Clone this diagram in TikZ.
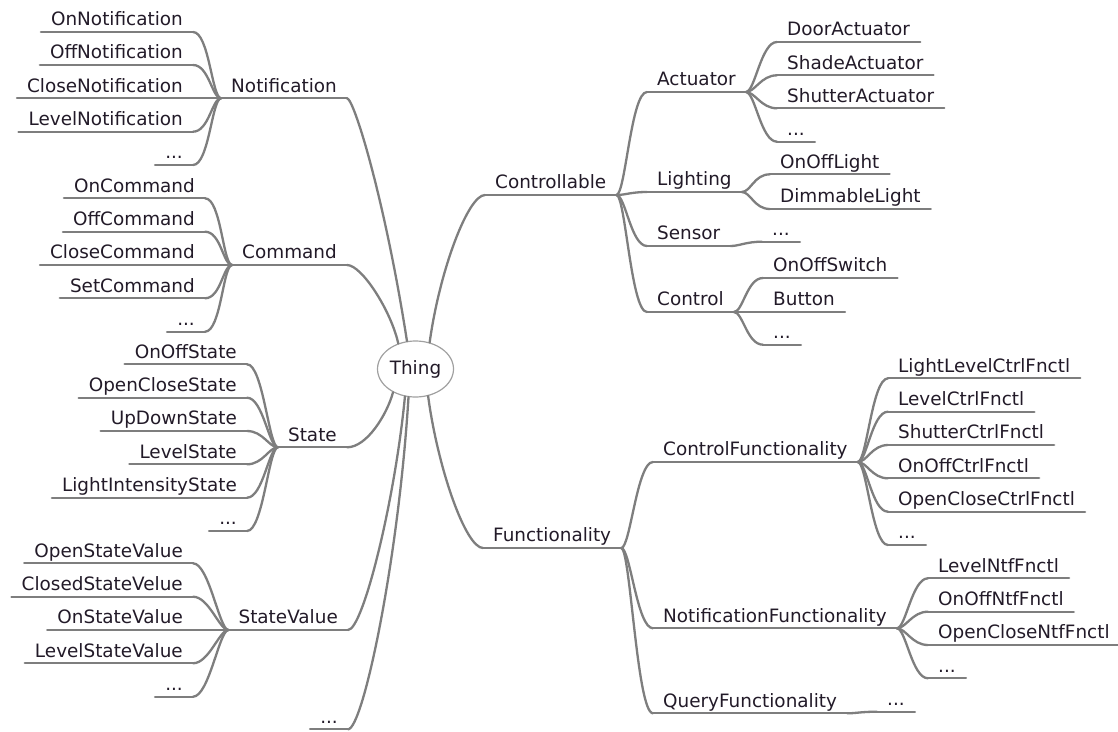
\documentclass[tikz,border=0pt]{standalone}
\usepackage{fontspec}
\setmainfont{DejaVu Sans}
\usetikzlibrary{shapes.geometric}
\definecolor{edgegray}{HTML}{7E7E7E}
\definecolor{rootgray}{HTML}{A0A0A0}
\definecolor{txt}{HTML}{221A28}
\newcommand\rlink[2]{\draw[ln] (#1.south east) .. controls +(9,0) and +(-16,0) .. (#2.south west);}
\newcommand\llink[2]{\draw[ln] (#1.south west) .. controls +(-9,0) and +(16,0) .. (#2.south east);}
\begin{document}
\begin{tikzpicture}[x=1pt,y=-1pt,
  lbl/.style={inner xsep=10pt, inner ysep=0pt, text height=13pt, text depth=6pt,
    font=\fontsize{18.4}{22}\selectfont, text=txt},
  L/.style={lbl, anchor=south east},
  R/.style={lbl, anchor=south west},
  ln/.style={draw=edgegray, line width=2.3pt, line cap=round},
  root/.style={ellipse, draw=rootgray, line width=1.2pt, fill=white, minimum width=76pt,
    minimum height=56pt, inner sep=0pt, font=\fontsize{18.4}{22}\selectfont, text=txt}]
\useasboundingbox (0,0) rectangle (1118,731);

\node[root] (thing) at (415.5,369) {Thing};

% ---------- left side ----------
\node[L] (notif) at (347,98.3) {Notification};
\node[L] (n1) at (193,32) {OnNotification};
\node[L] (n2) at (193,65) {OffNotification};
\node[L] (n3) at (193,98.3) {CloseNotification};
\node[L] (n4) at (193,131.7) {LevelNotification};
\node[L] (n5) at (193,165) {...};

\node[L] (cmd) at (347,265) {Command};
\node[L] (c1) at (205,198.3) {OnCommand};
\node[L] (c2) at (205,231.7) {OffCommand};
\node[L] (c3) at (205,265) {CloseCommand};
\node[L] (c4) at (205,298.3) {SetCommand};
\node[L] (c5) at (205,331.7) {...};

\node[L] (state) at (347,447.3) {State};
\node[L] (s1) at (247,364.3) {OnOffState};
\node[L] (s2) at (247,397.7) {OpenCloseState};
\node[L] (s3) at (247,431) {UpDownState};
\node[L] (s4) at (247,464.3) {LevelState};
\node[L] (s5) at (247,497.7) {LightIntensityState};
\node[L] (s6) at (247,531) {...};

\node[L] (stval) at (348,630) {StateValue};
\node[L] (v1) at (193,563.3) {OpenStateValue};
\node[L] (v2) at (193,596.7) {ClosedStateVelue};
\node[L] (v3) at (193,630) {OnStateValue};
\node[L] (v4) at (193,663.3) {LevelStateValue};
\node[L] (v5) at (193,696.7) {...};

\node[L] (more) at (348,729.3) {...};

% ---------- right side ----------
\node[R] (ctrl) at (485,195) {Controllable};
\node[R] (act) at (647,92) {Actuator};
\node[R] (a1) at (777,42) {DoorActuator};
\node[R] (a2) at (777,75.3) {ShadeActuator};
\node[R] (a3) at (777,108.3) {ShutterActuator};
\node[R] (a4) at (777,141.7) {...};
\node[R] (light) at (647,192) {Lighting};
\node[R] (l1) at (770,174.3) {OnOffLight};
\node[R] (l2) at (770,209) {DimmableLight};
\node[R] (sens) at (647,246) {Sensor};
\node[R] (se1) at (762,241.7) {...};
\node[R] (cont) at (647,312) {Control};
\node[R] (k1) at (763,278) {OnOffSwitch};
\node[R] (k2) at (763,312) {Button};
\node[R] (k3) at (763,344.7) {...};

\node[R] (func) at (483,548) {Functionality};
\node[R] (cf) at (653,462) {ControlFunctionality};
\node[R] (f1) at (888,378.3) {LightLevelCtrlFnctl};
\node[R] (f2) at (888,411.7) {LevelCtrlFnctl};
\node[R] (f3) at (888,445) {ShutterCtrlFnctl};
\node[R] (f4) at (888,478.3) {OnOffCtrlFnctl};
\node[R] (f5) at (888,511.7) {OpenCloseCtrlFnctl};
\node[R] (f6) at (888,545) {...};
\node[R] (nf) at (653,628.3) {NotificationFunctionality};
\node[R] (g1) at (928,578.3) {LevelNtfFnctl};
\node[R] (g2) at (928,611.7) {OnOffNtfFnctl};
\node[R] (g3) at (928,645) {OpenCloseNtfFnctl};
\node[R] (g4) at (928,678.3) {...};
\node[R] (qf) at (653,713.3) {QueryFunctionality};
\node[R] (q1) at (877,711.7) {...};

% underlines
\foreach \n in {notif,n1,n2,n3,n4,n5,cmd,c1,c2,c3,c4,c5,state,s1,s2,s3,s4,s5,s6,
  stval,v1,v2,v3,v4,v5,more,ctrl,act,a1,a2,a3,a4,light,l1,l2,sens,se1,cont,k1,k2,k3,
  func,cf,f1,f2,f3,f4,f5,f6,nf,g1,g2,g3,g4,qf,q1}
  \draw[ln] (\n.south west) -- (\n.south east);

% root connectors
\draw[ln] (notif.south east) .. controls +(7,0) and +(-22,-141) .. (thing.107);
\draw[ln] (cmd.south east) .. controls +(15,0) and +(-7,-32) .. (thing.124);
\draw[ln] (state.south east) .. controls +(20,0) and +(-6,22) .. (thing.226);
\draw[ln] (stval.south east) .. controls +(15,0) and +(-10,104) .. (thing.249);
\draw[ln] (more.south east) .. controls +(15,0) and +(-10,163) .. (thing.256);
\draw[ln] (ctrl.south west) .. controls +(-17,0) and +(10,-72) .. (thing.62);
\draw[ln] (func.south west) .. controls +(-17,0) and +(10,74) .. (thing.295);

% left subtrees
\foreach \c in {n1,n2,n3,n4,n5} {\llink{notif}{\c}}
\foreach \c in {c1,c2,c3,c4,c5} {\llink{cmd}{\c}}
\foreach \c in {s1,s2,s3,s4,s5,s6} {\llink{state}{\c}}
\foreach \c in {v1,v2,v3,v4,v5} {\llink{stval}{\c}}

% right subtrees
\foreach \c in {act,light,sens,cont} {\rlink{ctrl}{\c}}
\foreach \c in {a1,a2,a3,a4} {\rlink{act}{\c}}
\foreach \c in {l1,l2} {\rlink{light}{\c}}
\rlink{sens}{se1}
\foreach \c in {k1,k2,k3} {\rlink{cont}{\c}}
\foreach \c in {cf,nf,qf} {\rlink{func}{\c}}
\foreach \c in {f1,f2,f3,f4,f5,f6} {\rlink{cf}{\c}}
\foreach \c in {g1,g2,g3,g4} {\rlink{nf}{\c}}
\rlink{qf}{q1}
\end{tikzpicture}
\end{document}
